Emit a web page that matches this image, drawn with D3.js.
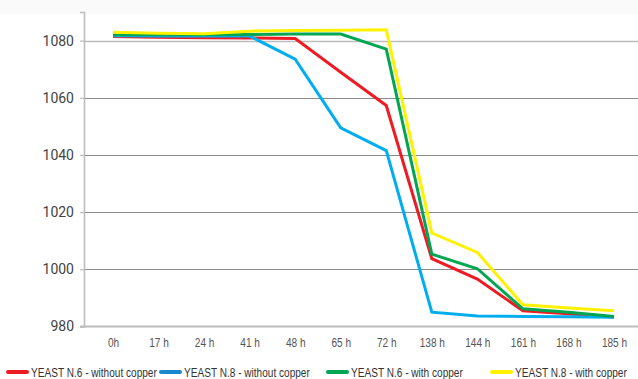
<!DOCTYPE html>
<html>
<head>
<meta charset="utf-8">
<script src="https://cdn.jsdelivr.net/npm/d3@7"></script>
<style>
  html, body { margin: 0; padding: 0; background: #fff; }
  svg { display: block; }
</style>
</head>
<body>
<svg id="chart" width="638" height="379"></svg>
<script>
const categories = ["0h", "17 h", "24 h", "41 h", "48 h", "65 h", "72 h", "138 h", "144 h", "161 h", "168 h", "185 h"];
const seriesNames = ["YEAST N.6 - without copper", "YEAST N.8 - without copper", "YEAST N.6 - with copper", "YEAST N.8 - with copper"];
const n6Without = [1081.4, 1081.2, 1081.0, 1080.9, 1080.7, 1068.9, 1057.3, 1003.7, 996.6, 985.5, 984.5, 983.3];
const n8Without = [1081.7, 1081.6, 1081.6, 1081.6, 1073.5, 1049.5, 1041.5, 985.0, 983.7, 983.5, 983.4, 983.2];
const n6With = [1082.0, 1082.0, 1082.0, 1082.1, 1082.3, 1082.3, 1077.0, 1005.3, 1000.2, 986.2, 985.0, 983.5];
const n8With = [1082.9, 1082.6, 1082.4, 1083.3, 1083.5, 1083.6, 1083.8, 1012.7, 1005.9, 987.6, 986.5, 985.5];
const yTicks = [980, 1000, 1020, 1040, 1060, 1080];
const lineColors = ["#ed1c24", "#00aeef", "#00a651", "#fff200"];
const legendColors = ["#ed1c24", "#1a87cf", "#00a651", "#fff200"];

const series = [n6Without, n8Without, n6With, n8With];

const svg = d3.select("#chart");
const W = 638, H = 379;
const axisX = 84;
const font = "'Liberation Sans', Arial, sans-serif";
const narrow = 0.84;

svg.append("rect").attr("x", 0).attr("y", 0).attr("width", W).attr("height", 14).attr("fill", "#fafafa");

const x = d3.scalePoint().domain(categories).range([113, 614]);
const y = d3.scaleLinear().domain([980, 1090]).range([326.5, 12]);

// gridlines
svg.append("g").selectAll("line").data(yTicks.filter(t => t !== 980)).join("line")
  .attr("x1", axisX).attr("x2", W)
  .attr("y1", d => Math.round(y(d)) + 0.5).attr("y2", d => Math.round(y(d)) + 0.5)
  .attr("stroke", d => d === 1080 ? "#bdbdbd" : "#8a8a8a")
  .attr("stroke-width", d => d === 1080 ? 1.6 : 1);

// y axis
const yAxis = d3.axisLeft(y).tickValues(yTicks).tickSize(4).tickPadding(6).tickFormat(d3.format("d"));
const gy = svg.append("g").attr("transform", `translate(${axisX},0)`).call(yAxis);
gy.select(".domain").attr("stroke", "#bdbdbd").attr("stroke-width", 1.6);
gy.selectAll(".tick line").attr("stroke", "#bdbdbd").attr("stroke-width", 1.2);
gy.selectAll(".tick text").attr("font-family", "Roboto, 'Open Sans', sans-serif").attr("font-size", 14)
  .attr("fill", "#444").attr("x", -10);

// x axis
const xAxis = d3.axisBottom(x).tickSize(0).tickPadding(12);
const gx = svg.append("g").attr("transform", `translate(0,${y(980)})`).call(xAxis);
gx.select(".domain").remove();
svg.append("line").attr("x1", axisX - 4).attr("x2", W)
  .attr("y1", y(980)).attr("y2", y(980))
  .attr("stroke", "#bdbdbd").attr("stroke-width", 1.8);
gx.selectAll(".tick text").attr("font-family", font).attr("font-size", 12).attr("fill", "#555")
  .attr("transform", `scale(${narrow},1)`);

// lines
const line = d3.line().x((d, i) => x(categories[i])).y(d => y(d));
svg.append("g").selectAll("path").data(series).join("path")
  .attr("d", d => line(d))
  .attr("fill", "none")
  .attr("stroke", (d, i) => lineColors[i])
  .attr("stroke-width", 3)
  .attr("stroke-linejoin", "miter");

// legend
const legendX = [8, 161, 328, 492];
const lg = svg.append("g").selectAll("g").data(seriesNames).join("g")
  .attr("transform", (d, i) => `translate(${legendX[i]},372)`);
lg.append("line").attr("x1", 0).attr("x2", 19).attr("y1", 0).attr("y2", 0)
  .attr("stroke", (d, i) => legendColors[i]).attr("stroke-width", 4).attr("stroke-linecap", "round");
lg.append("g").attr("transform", `translate(23,4.5) scale(${narrow},1)`)
  .append("text").text(d => d)
  .attr("font-family", font).attr("font-size", 12).attr("fill", "#333");
</script>
</body>
</html>
